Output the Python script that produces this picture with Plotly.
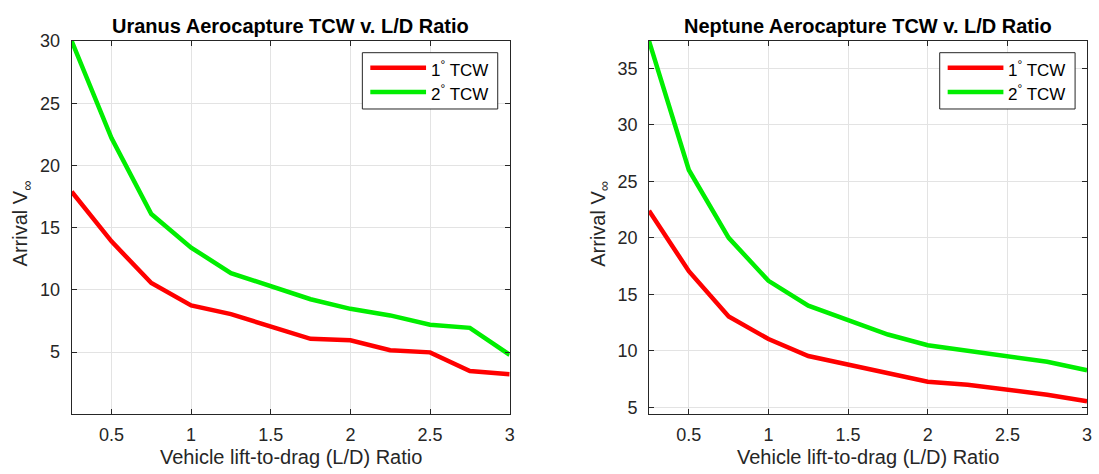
import plotly.graph_objects as go

# ---------------- data ----------------
ld_ratio = [0.25, 0.5, 0.75, 1.0, 1.25, 1.5, 1.75, 2.0, 2.25, 2.5, 2.75, 3.0]

uranus_1deg = [17.9, 13.9, 10.55, 8.75, 8.05, 7.1, 6.07, 5.95, 5.15, 4.98, 3.48, 3.22]
uranus_2deg = [30.0, 22.2, 16.1, 13.4, 11.35, 10.3, 9.25, 8.48, 7.95, 7.2, 6.95, 4.78]

neptune_1deg = [22.4, 17.05, 13.05, 11.05, 9.55, 8.8, 8.02, 7.28, 7.02, 6.6, 6.12, 5.55]
neptune_2deg = [37.4, 26.0, 20.0, 16.2, 14.0, 12.75, 11.45, 10.5, 10.05, 9.55, 9.05, 8.3]

x_ticks = [0.5, 1, 1.5, 2, 2.5, 3]
x_ticklabels = ["0.5", "1", "1.5", "2", "2.5", "3"]
uranus_yticks = [5, 10, 15, 20, 25, 30]
neptune_yticks = [5, 10, 15, 20, 25, 30, 35]

series_names = ["1<sup>°</sup> TCW", "2<sup>°</sup> TCW"]
series_colors = ["#ff0000", "#00ee00"]

titles = ["Uranus Aerocapture TCW v. L/D Ratio", "Neptune Aerocapture TCW v. L/D Ratio"]
x_title = "Vehicle lift-to-drag (L/D) Ratio"
y_title = "Arrival V<sub>∞</sub>"

# ---------------- layout geometry ----------------
W, H = 1099, 474
FONT = "Liberation Sans, Arial, Helvetica, sans-serif"
AXC = "#262626"
GRID = "#e3e3e3"


def px(x):
    return x / W


def py(y):
    return 1 - y / H


fig = go.Figure()

fig.add_trace(go.Scatter(x=ld_ratio, y=uranus_1deg, mode="lines", name=series_names[0],
                         line=dict(color=series_colors[0], width=4.5), xaxis="x", yaxis="y", showlegend=False))
fig.add_trace(go.Scatter(x=ld_ratio, y=uranus_2deg, mode="lines", name=series_names[1],
                         line=dict(color=series_colors[1], width=4.5), xaxis="x", yaxis="y", showlegend=False))
fig.add_trace(go.Scatter(x=ld_ratio, y=neptune_1deg, mode="lines", name=series_names[0],
                         line=dict(color=series_colors[0], width=4.5), xaxis="x2", yaxis="y2", showlegend=False))
fig.add_trace(go.Scatter(x=ld_ratio, y=neptune_2deg, mode="lines", name=series_names[1],
                         line=dict(color=series_colors[1], width=4.5), xaxis="x2", yaxis="y2", showlegend=False))

plot_top, plot_bot = 32, 416
panels = [
    dict(x0=72, x1=512, yrange=[0.05, 30], yticks=uranus_yticks),
    dict(x0=652, x1=1092, yrange=[4.45, 37.4], yticks=neptune_yticks),
]

axis_common = dict(
    showline=True, linecolor=AXC, linewidth=1, mirror="ticks",
    ticks="inside", ticklen=5, tickcolor=AXC, tickwidth=1,
    showgrid=True, gridcolor=GRID, gridwidth=1, zeroline=False,
    tickfont=dict(family=FONT, size=18, color="#262626"),
    fixedrange=True,
)

layout = dict(
    width=W, height=H, autosize=False,
    margin=dict(l=0, r=0, t=0, b=0),
    paper_bgcolor="white", plot_bgcolor="white",
    showlegend=False,
)

for i, p in enumerate(panels):
    sfx = "" if i == 0 else str(i + 1)
    layout["xaxis" + sfx] = dict(
        axis_common, domain=[px(p["x0"]), px(p["x1"])], range=[0.25, 3],
        tickvals=x_ticks, ticktext=x_ticklabels, anchor="y" + sfx, ticklabelstandoff=5,
    )
    layout["yaxis" + sfx] = dict(
        axis_common, domain=[py(plot_bot), py(plot_top)], range=p["yrange"],
        tickvals=p["yticks"], anchor="x" + sfx, ticklabelstandoff=7,
    )

fig.update_layout(**layout)

annotations = []
shapes = []
for i, p in enumerate(panels):
    cx = (p["x0"] + p["x1"]) / 2
    # title
    annotations.append(dict(x=px(cx), y=py(16), xref="paper", yref="paper", text="<b>" + titles[i] + "</b>",
                            showarrow=False, xanchor="center", yanchor="middle",
                            font=dict(family=FONT, size=20, color="black")))
    # x title
    annotations.append(dict(x=px(cx), y=py(461), xref="paper", yref="paper", text=x_title,
                            showarrow=False, xanchor="center", yanchor="middle",
                            font=dict(family=FONT, size=20, color="#262626")))
    # y title
    yx = 22 if i == 0 else 602
    annotations.append(dict(x=px(yx), y=py(220), xref="paper", yref="paper", text=y_title,
                            showarrow=False, xanchor="center", yanchor="middle", textangle=-90,
                            font=dict(family=FONT, size=20, color="#262626")))
    # legend box
    lx1 = p["x1"] - 12
    lx0 = lx1 - 136
    shapes.append(dict(type="rect", xref="paper", yref="paper", x0=px(lx0), x1=px(lx1),
                       y0=py(102), y1=py(44), line=dict(color=AXC, width=1), fillcolor="white", layer="above"))
    for k, ly in enumerate([59.5, 84.5]):
        shapes.append(dict(type="line", xref="paper", yref="paper", x0=px(lx0 + 8), x1=px(lx0 + 64),
                           y0=py(ly), y1=py(ly), line=dict(color=series_colors[k], width=4.5), layer="above"))
        annotations.append(dict(x=px(lx0 + 67), y=py(ly + 1), xref="paper", yref="paper", text=series_names[k],
                                showarrow=False, xanchor="left", yanchor="middle",
                                font=dict(family=FONT, size=17, color="black")))

fig.update_layout(annotations=annotations, shapes=shapes)

fig.write_html("out.html")
